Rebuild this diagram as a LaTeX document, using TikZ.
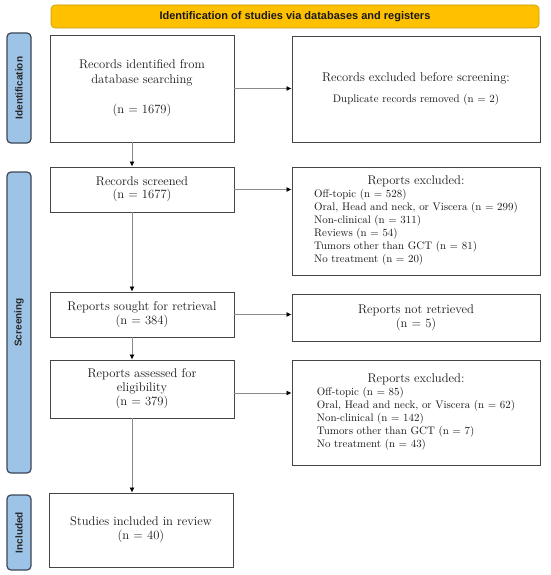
\documentclass[tikz,border=0pt]{standalone}
\usepackage{fontspec}
\setsansfont{Liberation Sans}
\usetikzlibrary{arrows.meta}
\newcommand\mainfs{\fontsize{12.6}{15}\selectfont}
\newcommand\listfs{\fontsize{10.9}{13}\selectfont}
\definecolor{boxline}{HTML}{454545}
\definecolor{arrgray}{HTML}{8A8A8A}
\definecolor{labblue}{HTML}{9DC3E6}
\definecolor{labline}{HTML}{3B4656}
\definecolor{hdrfill}{HTML}{FFC000}
\definecolor{hdrline}{HTML}{C99A00}
\begin{document}
\begin{tikzpicture}[x=1pt,y=-1pt,
  box/.style={draw=boxline, line width=0.9pt, fill=white, inner sep=0pt, align=center, font=\mainfs, text=black!90},
  arr/.style={draw=arrgray, line width=0.8pt, -{Latex[length=5pt,width=5pt,color=black]}},
  sidelab/.style={draw=labline, fill=labblue, line width=1.2pt, rounded corners=4pt, inner sep=0pt, rotate=90, font=\sffamily\bfseries\fontsize{10}{12}\selectfont, text=black!85},
  hdr/.style={draw=hdrline, fill=hdrfill, line width=0.6pt, rounded corners=4pt, inner sep=0pt, font=\sffamily\bfseries\fontsize{11}{12}\selectfont, text=black!90}
]
\useasboundingbox (0,0) rectangle (550,575);

\node[hdr, minimum width=488pt, minimum height=23pt] (hdr) at (295,16.5) {Identification of studies via databases and registers};

\node[sidelab, minimum width=110pt, minimum height=24pt] (idlab) at (19,88) {Identification};
\node[sidelab, minimum width=301pt, minimum height=24pt] (scrlab) at (19,322.5) {Screening};
\node[sidelab, minimum width=75pt, minimum height=24pt] (inclab) at (19,532.5) {Included};

\node[box, minimum width=184pt, minimum height=107pt] (ident) at (142,88.5)
  {Records identified from\\database searching\\[15pt](n = 1679)};
\node[box, minimum width=248pt, minimum height=106pt] (exbefore) at (416,89)
  {Records excluded before screening:\\[6pt]{\listfs Duplicate records removed (n = 2)}};

\node[box, minimum width=184pt, minimum height=45pt] (screened) at (142,189.5)
  {Records screened\\[-2pt](n = 1677)};
\node[box, minimum width=248pt, minimum height=108pt] (exscreen) at (416,221)
  {Reports excluded:\\[-2pt]{\listfs\begin{tabular}[t]{@{}l@{}}
   Off-topic (n = 528)\\
   Oral, Head and neck, or Viscera (n = 299)\\
   Non-clinical (n = 311)\\
   Reviews (n = 54)\\
   Tumors other than GCT (n = 81)\\
   No treatment (n = 20)
  \end{tabular}}};

\node[box, minimum width=184pt, minimum height=45pt] (sought) at (142,314.5)
  {Reports sought for retrieval\\[-1pt](n = 384)};
\node[box, minimum width=248pt, minimum height=47pt] (notret) at (416,317.5)
  {Reports not retrieved\\[-1pt](n = 5)};

\node[box, minimum width=184pt, minimum height=58pt] (assessed) at (142,389)
  {Reports assessed for\\[-1pt]eligibility\\[-1pt](n = 379)};
\node[box, minimum width=248pt, minimum height=105pt] (exelig) at (416,412.5)
  {Reports excluded:\\[-2pt]{\listfs\begin{tabular}[t]{@{}l@{}}
   Off-topic (n = 85)\\
   Oral, Head and neck, or Viscera (n = 62)\\
   Non-clinical (n = 142)\\
   Tumors other than GCT (n = 7)\\
   No treatment (n = 43)
  \end{tabular}}};

\node[box, minimum width=184pt, minimum height=74pt] (studies) at (141,530)
  {Studies included in review\\[-1pt](n = 40)};

\coordinate (colx) at (132,0);

\draw[arr] (ident.south -| colx) -- (screened.north -| colx);
\draw[arr] (screened.south -| colx) -- (sought.north -| colx);
\draw[arr] (sought.south -| colx) -- (assessed.north -| colx);
\draw[arr] (assessed.south -| colx) -- (studies.north -| colx);

\draw[arr] (ident.east) -- (ident.east -| exbefore.west);
\draw[arr] (screened.east) -- (screened.east -| exscreen.west);
\draw[arr] (sought.east) -- (sought.east -| notret.west);
\draw[arr] ([yshift=-4pt]assessed.east) -- ([yshift=-4pt]assessed.east -| exelig.west);
\end{tikzpicture}
\end{document}
